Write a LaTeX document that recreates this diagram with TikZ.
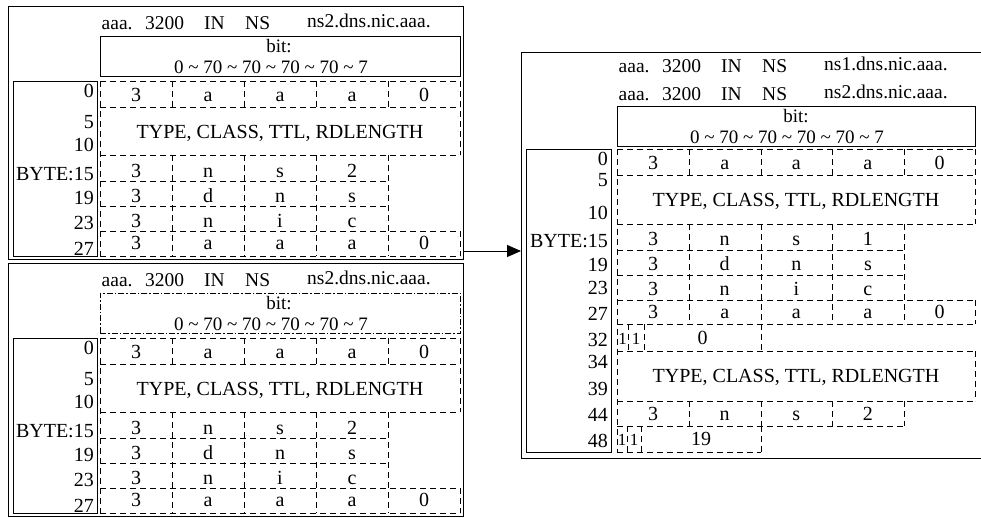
\documentclass[tikz,border=0pt]{standalone}
\usepackage{fontspec}
\setmainfont{Liberation Serif}
\usetikzlibrary{arrows.meta}
\tikzset{
 outerbox/.style={draw, line width=1.3pt, inner sep=0pt, anchor=north west},
 bytebox/.style={draw, line width=1pt, inner sep=0pt, anchor=north west},
 bitsolid/.style={draw, line width=1pt, inner sep=0pt, anchor=north west},
 bitdashdot/.style={draw, line width=0.8pt, inner sep=0pt, anchor=north west, dash pattern=on 6pt off 2pt on 1.5pt off 2pt},
 gridline/.style={line width=0.8pt, dash pattern=on 6pt off 4pt},
 txt/.style={inner sep=0pt, anchor=base, font=\fontsize{20}{20}\selectfont},
 bittxt/.style={inner sep=0pt, anchor=base, font=\fontsize{19}{19}\selectfont},
 lbl/.style={inner sep=0pt, anchor=base east, font=\fontsize{20}{20}\selectfont},
 hd/.style={inner sep=0pt, anchor=base west, font=\fontsize{19.5}{20}\selectfont},
 smalltxt/.style={inner sep=0pt, anchor=base, font=\fontsize{17}{17}\selectfont},
 arrowline/.style={line width=1pt, -{Triangle[length=14pt,width=12pt]}},
}
% header line: prefix, grid left x, baseline y, ns name
\newcommand\hdrline[4]{%
  \node[hd] (#1a) at (#2+1.5,#3) {aaa.};
  \node[hd] (#1b) at (#2+45,#3) {3200};
  \node[hd] (#1c) at (#2+104,#3) {IN};
  \node[hd] (#1d) at (#2+145,#3) {NS};
  \node[hd] (#1e) at (#2+207,#3-2) {#4};
}
% left panel: prefix, y shift, bit box style
\newcommand\leftpanel[3]{%
\begin{scope}[shift={(0,#2)}]
  \node[outerbox, minimum width=455pt, minimum height=253pt] (#1box) at (8,6) {};
  \node[bytebox, minimum width=84pt, minimum height=175pt] (#1byte) at (13,81) {};
  \node[#3, minimum width=360pt, minimum height=40pt] (#1bit) at (100,36) {};
  \hdrline{#1h}{100}{29}{ns2.dns.nic.aaa.}
  \node[bittxt] (#1bt1) at (279,52.5) {bit:};
  \node[bittxt] (#1bt2) at (271,73) {0 \textasciitilde{} 70 \textasciitilde{} 70 \textasciitilde{} 70 \textasciitilde{} 70 \textasciitilde{} 7};
  % grid
  \draw[gridline] (100,81) -- (460,81);
  \draw[gridline] (100,107) -- (460,107);
  \draw[gridline] (100,155) -- (460,155);
  \draw[gridline] (100,181) -- (388,181);
  \draw[gridline] (100,206) -- (388,206);
  \draw[gridline] (100,231) -- (460,231);
  \draw[gridline] (100,256) -- (460,256);
  \draw[gridline] (100,81) -- (100,256);
  \foreach \xx in {172,244,316,388} {
    \draw[gridline] (\xx,81) -- (\xx,107);
    \draw[gridline] (\xx,155) -- (\xx,256);
  }
  \draw[gridline] (460,81) -- (460,155);
  \draw[gridline] (460,231) -- (460,256);
  % cell texts
  \foreach \t [count=\i] in {3,a,a,a,0} {\node[txt] (#1r0c\i) at ({64+72*\i},101) {\t};}
  \node[txt] (#1type) at (280,138) {TYPE, CLASS, TTL, RDLENGTH};
  \foreach \t [count=\i] in {3,n,s,2} {\node[txt] (#1r15c\i) at ({64+72*\i},177) {\t};}
  \foreach \t [count=\i] in {3,d,n,s} {\node[txt] (#1r19c\i) at ({64+72*\i},202) {\t};}
  \foreach \t [count=\i] in {3,n,i,c} {\node[txt] (#1r23c\i) at ({64+72*\i},227) {\t};}
  \foreach \t [count=\i] in {3,a,a,a,0} {\node[txt] (#1r27c\i) at ({64+72*\i},249) {\t};}
  % byte labels
  \node[lbl] (#1l0) at (94,97) {0};
  \node[lbl] (#1l5) at (94,128) {5};
  \node[lbl] (#1l10) at (94,151) {10};
  \node[lbl] (#1l15) at (94,180) {BYTE:15};
  \node[lbl] (#1l19) at (94,204) {19};
  \node[lbl] (#1l23) at (94,229) {23};
  \node[lbl] (#1l27) at (94,255) {27};
\end{scope}}

\begin{document}
\begin{tikzpicture}[x=1pt,y=-1pt]
\useasboundingbox (0,0) rectangle (981,517);
\leftpanel{P}{0}{bitsolid}
\leftpanel{Q}{257}{bitdashdot}

% right panel
\node[outerbox, minimum width=469pt, minimum height=406pt] (Rbox) at (521,52) {};
\node[bytebox, minimum width=85pt, minimum height=303pt] (Rbyte) at (526,149) {};
\node[bitsolid, minimum width=358pt, minimum height=40pt] (Rbit) at (617,106) {};
\hdrline{Rh}{617}{72}{ns1.dns.nic.aaa.}
\hdrline{Rk}{617}{100}{ns2.dns.nic.aaa.}
\node[bittxt] (Rbt1) at (796,122.5) {bit:};
\node[bittxt] (Rbt2) at (787,143) {0 \textasciitilde{} 70 \textasciitilde{} 70 \textasciitilde{} 70 \textasciitilde{} 70 \textasciitilde{} 7};
% grid
\draw[gridline] (617,149) -- (975,149);
\draw[gridline] (617,175) -- (975,175);
\draw[gridline] (617,224) -- (975,224);
\draw[gridline] (617,250) -- (904,250);
\draw[gridline] (617,275) -- (904,275);
\draw[gridline] (617,300) -- (975,300);
\draw[gridline] (617,324) -- (975,324);
\draw[gridline] (617,351) -- (975,351);
\draw[gridline] (617,401) -- (975,401);
\draw[gridline] (617,426) -- (904,426);
\draw[gridline] (617,452) -- (761,452);
\draw[gridline] (617,149) -- (617,452);
\foreach \xx in {689,761,832,904} {
  \draw[gridline] (\xx,149) -- (\xx,175);
  \draw[gridline] (\xx,224) -- (\xx,324);
  \draw[gridline] (\xx,401) -- (\xx,426);
}
\draw[gridline] (975,149) -- (975,224);
\draw[gridline] (975,300) -- (975,324);
\draw[gridline] (975,351) -- (975,401);
\draw[gridline] (628,324) -- (628,351);
\draw[gridline] (644,324) -- (644,351);
\draw[gridline] (761,324) -- (761,351);
\draw[gridline] (627,426) -- (627,452);
\draw[gridline] (641,426) -- (641,452);
\draw[gridline] (761,426) -- (761,452);
% cell texts
\foreach \t [count=\i] in {3,a,a,a,0} {\node[txt] (Rr0c\i) at ({581.5+71.6*\i},169) {\t};}
\node[txt] (Rtype1) at (796,206) {TYPE, CLASS, TTL, RDLENGTH};
\foreach \t [count=\i] in {3,n,s,1} {\node[txt] (Rr15c\i) at ({581.5+71.6*\i},245) {\t};}
\foreach \t [count=\i] in {3,d,n,s} {\node[txt] (Rr19c\i) at ({581.5+71.6*\i},270) {\t};}
\foreach \t [count=\i] in {3,n,i,c} {\node[txt] (Rr23c\i) at ({581.5+71.6*\i},295) {\t};}
\foreach \t [count=\i] in {3,a,a,a,0} {\node[txt] (Rr27c\i) at ({581.5+71.6*\i},318) {\t};}
\node[smalltxt] (Rr32a) at (622.5,344) {1};
\node[smalltxt] (Rr32b) at (636,344) {1};
\node[txt] (Rr32c) at (702.5,344) {0};
\node[txt] (Rtype2) at (796,382) {TYPE, CLASS, TTL, RDLENGTH};
\foreach \t [count=\i] in {3,n,s,2} {\node[txt] (Rr44c\i) at ({581.5+71.6*\i},420) {\t};}
\node[smalltxt] (Rr48a) at (622,445) {1};
\node[smalltxt] (Rr48b) at (634,445) {1};
\node[txt] (Rr48c) at (701,445) {19};
% byte labels
\node[lbl] (Rl0) at (608,165) {0};
\node[lbl] (Rl5) at (608,186) {5};
\node[lbl] (Rl10) at (608,219) {10};
\node[lbl] (Rl15) at (608,247) {BYTE:15};
\node[lbl] (Rl19) at (608,271) {19};
\node[lbl] (Rl23) at (608,294) {23};
\node[lbl] (Rl27) at (608,320) {27};
\node[lbl] (Rl32) at (608,346) {32};
\node[lbl] (Rl34) at (608,368) {34};
\node[lbl] (Rl39) at (608,395) {39};
\node[lbl] (Rl44) at (608,421) {44};
\node[lbl] (Rl48) at (608,447) {48};

% arrow
\coordinate (arrstart) at (463,251);
\draw[arrowline] (arrstart) -- (arrstart -| Rbox.west);
\end{tikzpicture}
\end{document}
